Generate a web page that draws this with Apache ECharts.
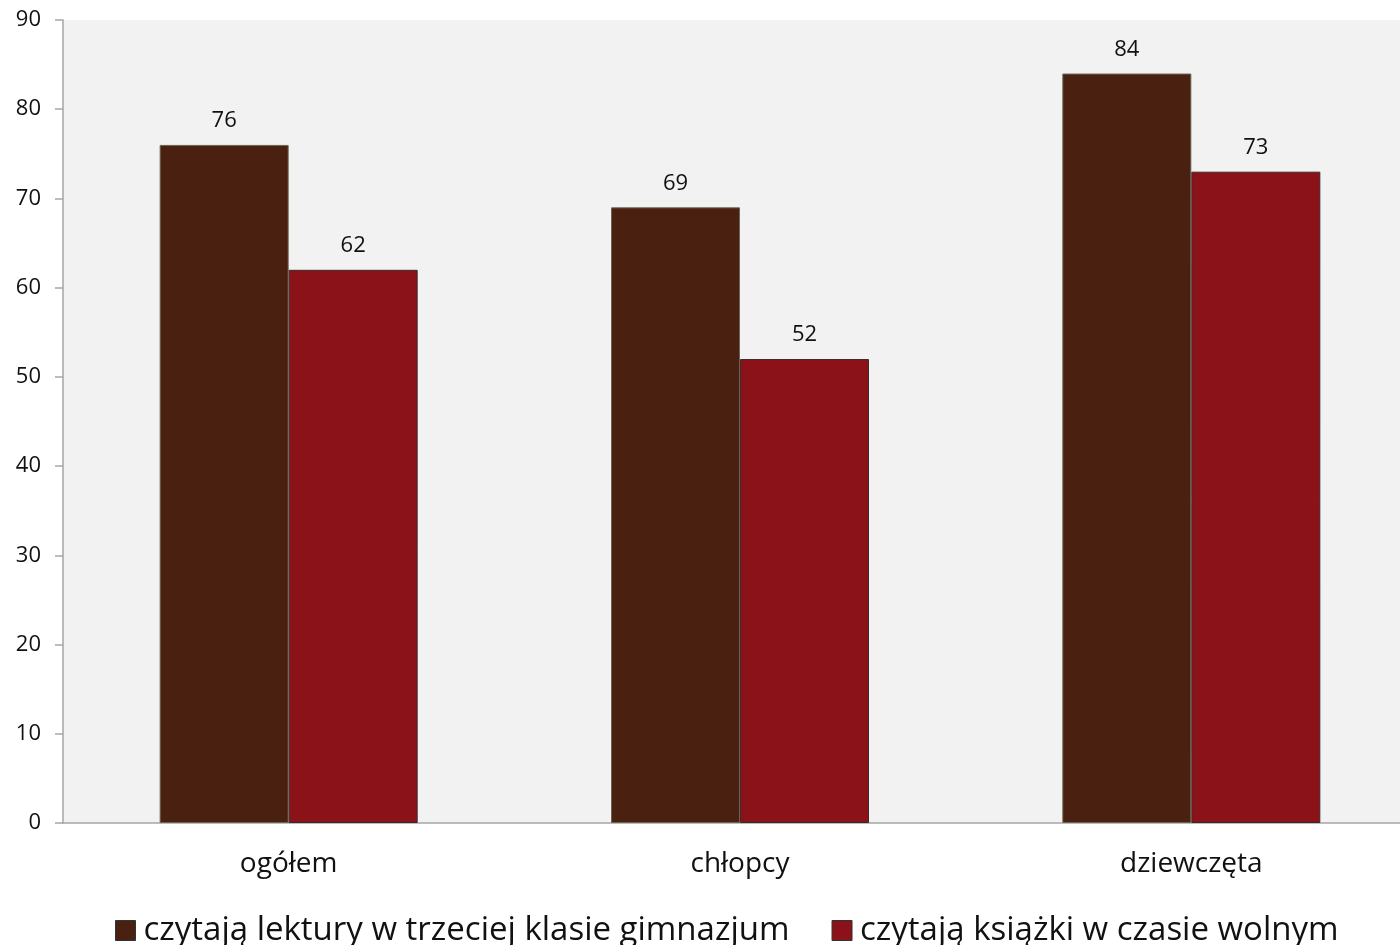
<!DOCTYPE html>
<html><head><meta charset="utf-8">
<script src="https://cdn.jsdelivr.net/npm/echarts@6/dist/echarts.min.js"></script>
<style>html,body{margin:0;padding:0;background:#fff;overflow:hidden}#c{width:1417px;height:945px}</style>
</head><body><div id="c"></div>
<script>
const categories = ['ogółem', 'chłopcy', 'dziewczęta'];
const seriesNames = ['czytają lektury w trzeciej klasie gimnazjum', 'czytają książki w czasie wolnym'];
const lektury = [76, 69, 84];
const wolny = [62, 52, 73];
const yMin = 0, yMax = 90, yStep = 10;

const font = '"Open Sans", Lato, sans-serif';
const chart = echarts.init(document.getElementById('c'));
chart.setOption({
  backgroundColor: '#ffffff',
  animation: false,
  textStyle: { fontFamily: font },
  grid: { left: 63, top: 20, right: 0, height: 803, backgroundColor: '#f2f2f2', show: true, borderWidth: 0 },
  legend: {
    bottom: -7, left: 110,
    itemWidth: 20, itemHeight: 20, itemGap: 42,
    textStyle: { fontSize: 33, color: '#111', fontFamily: font, padding: [0, 0, 0, 3] },
    data: seriesNames.map((n, i) => ({ name: n, icon: 'rect', itemStyle: { borderColor: '#333', borderWidth: 1 } }))
  },
  xAxis: {
    type: 'category', data: categories,
    axisLine: { show: true, lineStyle: { color: '#a6a6a6', width: 1.5 } },
    axisTick: { show: false },
    axisLabel: { fontSize: 28, color: '#111', margin: 27, fontFamily: font }
  },
  yAxis: {
    type: 'value', min: yMin, max: yMax, interval: yStep,
    axisLine: { show: true, lineStyle: { color: '#a6a6a6', width: 1.5 } },
    axisTick: { show: true, length: 8, lineStyle: { color: '#a6a6a6', width: 1.5 } },
    splitLine: { show: false },
    axisLabel: { fontSize: 22, color: '#111', margin: 22, fontFamily: font }
  },
  series: [
    {
      name: seriesNames[0], type: 'bar', data: lektury, barWidth: 129, barGap: '0%',
      itemStyle: { color: '#4a2110', borderColor: '#6b6352', borderWidth: 1 },
      label: { show: true, position: 'top', distance: 13, fontSize: 22, color: '#111', fontFamily: font }
    },
    {
      name: seriesNames[1], type: 'bar', data: wolny, barWidth: 129, barGap: '0%',
      itemStyle: { color: '#8c121a', borderColor: '#3a2a2a', borderWidth: 1 },
      label: { show: true, position: 'top', distance: 13, fontSize: 22, color: '#111', fontFamily: font }
    }
  ]
});
</script></body></html>
